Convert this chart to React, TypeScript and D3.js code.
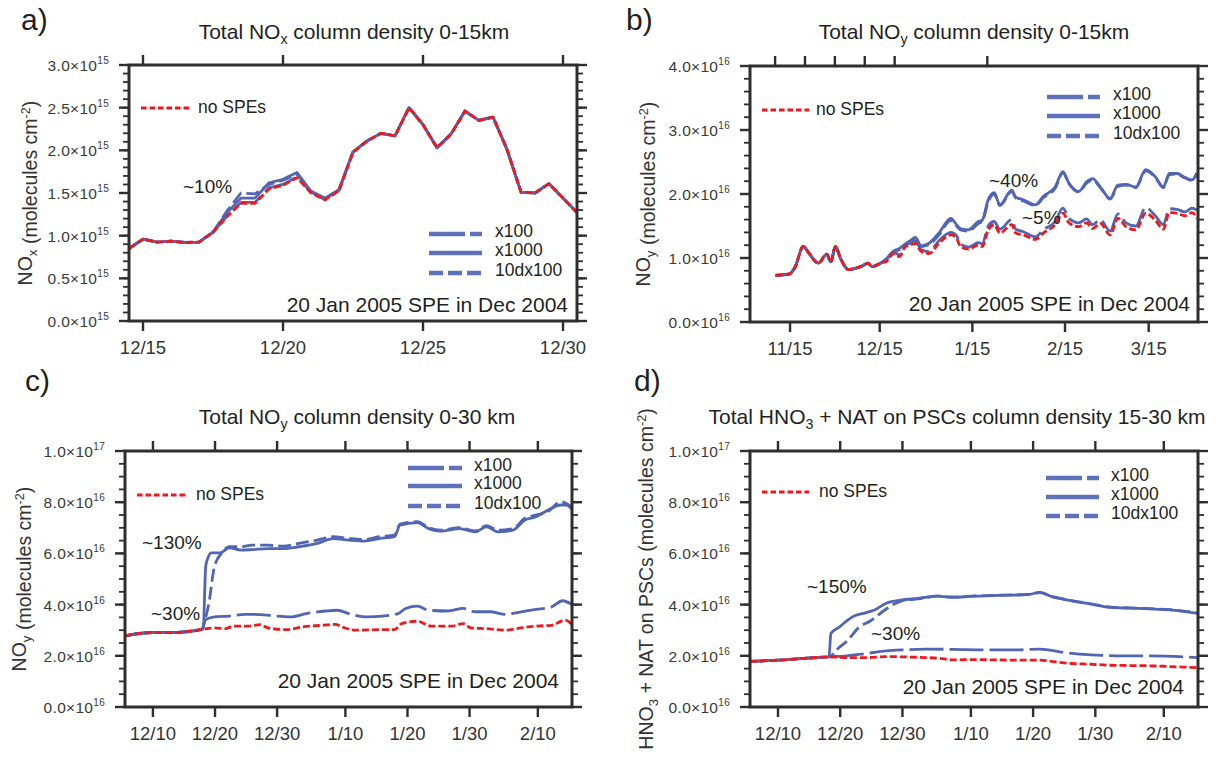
import * as d3 from "d3";
import type { ReactNode } from "react";

// ---------- data (values in units of the panel's base exponent) ----------
// x values are days counted from 30 Nov 2004 (so 12/15 = 15, 1/10 = 41, 11/15 = -15)

// panel a: NOx 0-15 km, x1e15, twice daily
const aDays = [14.5, 15, 15.5, 16, 16.5, 17, 17.5, 18, 18.5, 19, 19.5, 20, 20.5, 21, 21.5, 22, 22.5, 23, 23.5, 24, 24.5, 25, 25.5, 26, 26.5, 27, 27.5, 28, 28.5, 29, 29.5, 30, 30.5];
const aNoSpe = [0.85, 0.96, 0.925, 0.935, 0.92, 0.925, 1.04, 1.225, 1.38, 1.38, 1.55, 1.59, 1.68, 1.5, 1.42, 1.53, 1.98, 2.11, 2.2, 2.17, 2.5, 2.3, 2.03, 2.19, 2.46, 2.35, 2.39, 2.01, 1.51, 1.5, 1.61, 1.44, 1.27];
const aX1000 = [0.85, 0.96, 0.925, 0.935, 0.92, 0.925, 1.04, 1.27, 1.44, 1.44, 1.62, 1.66, 1.74, 1.52, 1.44, 1.54, 1.98, 2.11, 2.2, 2.17, 2.5, 2.3, 2.03, 2.19, 2.46, 2.35, 2.39, 2.01, 1.51, 1.5, 1.61, 1.44, 1.27];
const a10dx100 = [0.85, 0.96, 0.925, 0.935, 0.92, 0.925, 1.04, 1.29, 1.5, 1.49, 1.6, 1.65, 1.72, 1.52, 1.43, 1.54, 1.98, 2.11, 2.2, 2.17, 2.5, 2.3, 2.03, 2.19, 2.46, 2.35, 2.39, 2.01, 1.51, 1.5, 1.61, 1.44, 1.27];
const aX100 = [0.85, 0.96, 0.925, 0.935, 0.92, 0.925, 1.04, 1.23, 1.39, 1.39, 1.56, 1.6, 1.69, 1.51, 1.42, 1.53, 1.98, 2.11, 2.2, 2.17, 2.5, 2.3, 2.03, 2.19, 2.46, 2.35, 2.39, 2.01, 1.51, 1.5, 1.61, 1.44, 1.27];

// panel b: NOy 0-15 km, x1e16
const bDays = [-19.85, -15.2, -13.3, -10.6, -8.6, -5.6, -2.7, -1.4, 0.2, 1.9, 4.5, 9.1, 11.1, 12.4, 15.7, 17, 19.7, 21.6, 23.6, 25.2, 26.9, 28.9, 31.5, 34.8, 38.8, 40.7, 42, 44.7, 48, 49.3, 51.3, 53.3, 55.2, 59.2, 60.5, 63.1, 67.1, 69.7, 73.7, 76.3, 78.3, 81.6, 84.2, 86.2, 88.8, 92.1, 94.7, 97.4, 100.7, 104, 107.2, 109.9, 111.9, 114.5, 117.1, 119.5, 121.1];
const bNoSpe = [0.73, 0.75, 0.86, 1.18, 1.07, 0.92, 1.06, 0.94, 1.18, 0.99, 0.82, 0.875, 0.92, 0.865, 0.93, 0.94, 1.07, 1.02, 1.18, 1.2, 1.23, 1.1, 1.07, 1.23, 1.36, 1.31, 1.18, 1.14, 1.2, 1.18, 1.44, 1.52, 1.39, 1.52, 1.39, 1.36, 1.29, 1.39, 1.52, 1.7, 1.55, 1.49, 1.55, 1.46, 1.54, 1.36, 1.62, 1.49, 1.44, 1.7, 1.59, 1.45, 1.71, 1.7, 1.66, 1.71, 1.62];
const bX1000 = [0.73, 0.75, 0.86, 1.18, 1.07, 0.92, 1.06, 0.94, 1.18, 0.99, 0.82, 0.875, 0.92, 0.865, 0.93, 0.98, 1.11, 1.15, 1.22, 1.27, 1.32, 1.19, 1.23, 1.39, 1.62, 1.52, 1.46, 1.44, 1.57, 1.59, 1.91, 2.02, 1.83, 2.06, 1.95, 1.91, 1.83, 1.96, 2.11, 2.35, 2.17, 2.04, 2.19, 2.24, 2.11, 1.93, 2.14, 2.15, 2.11, 2.38, 2.27, 2.11, 2.32, 2.32, 2.26, 2.22, 2.33];
const b10dx100 = [0.73, 0.75, 0.86, 1.18, 1.07, 0.92, 1.06, 0.94, 1.18, 0.99, 0.82, 0.875, 0.92, 0.865, 0.93, 0.97, 1.1, 1.13, 1.21, 1.25, 1.3, 1.18, 1.21, 1.36, 1.59, 1.5, 1.44, 1.42, 1.54, 1.57, 1.88, 2.0, 1.82, 2.04, 1.94, 1.89, 1.82, 1.94, 2.09, 2.33, 2.16, 2.03, 2.17, 2.22, 2.1, 1.92, 2.12, 2.14, 2.1, 2.36, 2.26, 2.1, 2.3, 2.31, 2.25, 2.21, 2.31];
const bX100 = [0.73, 0.75, 0.86, 1.18, 1.07, 0.92, 1.06, 0.94, 1.18, 0.99, 0.82, 0.875, 0.92, 0.865, 0.93, 0.96, 1.09, 1.05, 1.2, 1.23, 1.27, 1.13, 1.1, 1.27, 1.4, 1.35, 1.22, 1.17, 1.24, 1.22, 1.5, 1.57, 1.45, 1.6, 1.45, 1.41, 1.33, 1.44, 1.57, 1.78, 1.62, 1.55, 1.61, 1.52, 1.6, 1.42, 1.69, 1.55, 1.5, 1.79, 1.66, 1.52, 1.77, 1.76, 1.72, 1.78, 1.75];

// panel c: NOy 0-30 km, x1e16, [day, value]
const cNoSpe: [number, number][] = [[5.5, 2.78], [10, 2.91], [13.1, 2.91], [14.9, 2.93], [17.7, 3.02], [19.9, 3.09], [21.7, 3.06], [23, 3.16], [25.4, 3.16], [27.3, 3.22], [28.5, 3.09], [31.6, 3.02], [34.1, 3.13], [37.2, 3.19], [39.3, 3.23], [40.9, 3.09], [42.7, 3.0], [46.4, 3.02], [48.9, 3.02], [50.1, 3.26], [52.6, 3.35], [54.8, 3.16], [58.1, 3.16], [60, 3.26], [61.2, 3.09], [63.7, 3.06], [66.8, 3.0], [69.3, 3.09], [71.7, 3.16], [74.2, 3.19], [76.4, 3.39], [77.5, 3.22]];
const cX1000: [number, number][] = [[5.5, 2.78], [10, 2.91], [13.1, 2.91], [14.9, 2.93], [17.7, 3.02], [18.1, 3.04], [18.5, 5.5], [18.9, 5.85], [19.4, 6.02], [20.8, 6.02], [22.3, 6.22], [24.2, 6.13], [26, 6.15], [28.5, 6.19], [31, 6.19], [33.5, 6.26], [36.5, 6.39], [39, 6.58], [41.5, 6.52], [44, 6.48], [46.4, 6.58], [48.9, 6.65], [49.8, 7.1], [52.6, 7.2], [54.4, 6.97], [56.3, 6.87], [59.4, 6.97], [61.9, 6.84], [63.7, 7.04], [65.6, 6.84], [68, 6.91], [69.9, 7.3], [71.7, 7.43], [73.6, 7.69], [75.7, 7.89], [76.6, 7.89], [77.5, 7.72]];
const c10dx100: [number, number][] = [[5.5, 2.78], [10, 2.91], [13.1, 2.91], [14.9, 2.93], [17.7, 3.02], [17.9, 3.05], [18.6, 3.6], [19, 4.04], [19.9, 5.48], [21.1, 6.02], [22.3, 6.26], [24.2, 6.26], [26, 6.32], [28.5, 6.32], [31, 6.28], [33.5, 6.39], [36.5, 6.52], [39, 6.65], [41.5, 6.58], [44, 6.54], [46.4, 6.65], [48.9, 6.71], [49.8, 7.14], [52.6, 7.24], [54.4, 7.01], [56.3, 6.91], [59.4, 7.01], [61.9, 6.88], [63.7, 7.08], [65.6, 6.91], [68, 6.97], [69.9, 7.37], [71.7, 7.5], [73.6, 7.63], [75.7, 8.02], [76.6, 7.95], [77.5, 7.82]];
const cX100: [number, number][] = [[5.5, 2.78], [10, 2.91], [13.1, 2.91], [14.9, 2.93], [17.7, 3.02], [18, 3.04], [18.4, 3.4], [19.9, 3.52], [22.3, 3.55], [24.8, 3.62], [27.3, 3.61], [29.8, 3.55], [32.2, 3.52], [34.7, 3.65], [37.8, 3.75], [39.6, 3.78], [42.1, 3.61], [44.6, 3.52], [47, 3.55], [49.5, 3.65], [50.7, 3.85], [52.6, 3.94], [54.4, 3.78], [57.5, 3.75], [60, 3.85], [61.9, 3.72], [64.3, 3.72], [66.8, 3.62], [69.3, 3.72], [71.7, 3.81], [74.2, 3.91], [76, 4.15], [77.5, 4.0]];

// panel d: HNO3 + NAT 15-30 km, x1e16, [day, value]
const dNoSpe: [number, number][] = [[5.5, 1.78], [10, 1.83], [14.7, 1.91], [18.2, 1.96], [21.1, 1.93], [24.2, 1.93], [27.4, 1.97], [29.9, 1.96], [33.7, 1.93], [35.6, 1.91], [38.2, 1.84], [41.9, 1.85], [45.1, 1.84], [48.3, 1.83], [52.1, 1.83], [54.6, 1.76], [57.2, 1.7], [60.3, 1.67], [63.5, 1.63], [66.6, 1.62], [69.8, 1.61], [73, 1.58], [77.4, 1.54]];
const dX1000: [number, number][] = [[5.5, 1.78], [10, 1.83], [14.7, 1.91], [18.2, 1.96], [18.5, 2.87], [19.8, 3.11], [21.1, 3.37], [22.3, 3.56], [24.2, 3.69], [25.5, 3.79], [27.4, 4.05], [29.9, 4.18], [32.5, 4.24], [35.6, 4.33], [38.2, 4.28], [41.3, 4.33], [44.5, 4.35], [47.7, 4.37], [50.2, 4.39], [52.1, 4.48], [54, 4.31], [57.2, 4.15], [60.3, 4.02], [63.5, 3.89], [66.6, 3.86], [69.8, 3.83], [73, 3.79], [77.4, 3.66]];
const d10dx100: [number, number][] = [[5.5, 1.78], [10, 1.83], [14.7, 1.91], [18.2, 1.96], [19.8, 2.32], [21.1, 2.58], [23, 3.11], [24.9, 3.37], [27.4, 3.83], [29.9, 4.15], [32.5, 4.22], [35.6, 4.33], [38.2, 4.3], [41.3, 4.33], [44.5, 4.36], [47.7, 4.38], [50.2, 4.4], [52.1, 4.47], [54, 4.32], [57.2, 4.16], [60.3, 4.03], [63.5, 3.9], [66.6, 3.87], [69.8, 3.84], [73, 3.8], [77.4, 3.68]];
const dX100: [number, number][] = [[5.5, 1.78], [10, 1.83], [14.7, 1.91], [18.2, 1.96], [21.1, 2.0], [24.2, 2.09], [27.4, 2.19], [29.9, 2.23], [33.7, 2.26], [38.2, 2.25], [43.2, 2.23], [48.3, 2.23], [52.1, 2.26], [55.9, 2.13], [60.3, 2.04], [65.4, 2.0], [69.8, 2.0], [77.4, 1.93]];

// tick labels
const aTickDays = [15, 20, 25, 30];
const aTickLabels = ["12/15", "12/20", "12/25", "12/30"];
const bTickDays = [-15, 15, 46, 77, 105];
const bTickLabels = ["11/15", "12/15", "1/15", "2/15", "3/15"];
const bTopTickDays = [-20, -10, 0, 10, 20, 51];
const cdTickDays = [10, 20, 30, 41, 51, 61, 72];
const cdTickLabels = ["12/10", "12/20", "12/30", "1/10", "1/20", "1/30", "2/10"];
const legendNames = ["x100", "x1000", "10dx100"];
const spe = "20 Jan 2005 SPE in Dec 2004";

// ---------- styles ----------
const BLUE = "#5165b5";
const RED = "#f2171c";
const INK = "#231f20";
const AXIS = "#2e2e2e";
const FONT = "'Liberation Sans', Arial, Helvetica, sans-serif";

type Pt = [number, number];
type Kind = "x100" | "x1000" | "d10" | "none";
type Line = { kind: Kind; pts: Pt[] };

const dashFor: Record<Kind, string | undefined> = {
  x100: "34 6",
  x1000: undefined,
  d10: "13 5",
  none: "7 3",
};
const legendDash = ["36 5", undefined, "14 5"];

const zipPts = (xs: number[], ys: number[]): Pt[] => xs.map((x, i) => [x, ys[i]] as Pt);

type Box = { x0: number; x1: number; y0: number; y1: number };

type PanelProps = {
  id: string;
  box: Box;
  xDom: [number, number];
  yDom: [number, number];
  exp: number;
  majorN: number;
  minorN: number;
  smooth: boolean;
  ticks: number[];
  tickLabels: string[];
  topTicks: number[];
  lines: Line[];
  tag: { text: string; x: number; y: number };
  title: { node: ReactNode; x: number; y: number };
  yTitle: { node: ReactNode; x: number };
  red: { x0: number; x1: number; y: number; tx: number };
  blue: { x0: number; x1: number; ys: number[]; tx: number };
  notes: { text: string; x: number; y: number }[];
  speAt: { x: number; y: number };
};

function Panel(p: PanelProps) {
  const { box } = p;
  const x = d3.scaleLinear().domain(p.xDom).range([box.x0, box.x1]);
  const y = d3.scaleLinear().domain(p.yDom).range([box.y1, box.y0]);
  const line = d3
    .line<Pt>()
    .x((d) => x(d[0]))
    .y((d) => y(d[1]))
    .curve(p.smooth ? d3.curveMonotoneX : d3.curveLinear);
  const majors = y.ticks(p.majorN);
  const minors = y.ticks(p.minorN);
  const order: Kind[] = ["x100", "d10", "x1000", "none"];

  const yLabel = (v: number) => {
    const big = v >= 10;
    return { m: (big ? v / 10 : v).toFixed(1), e: String(big ? p.exp + 1 : p.exp) };
  };

  return (
    <g>
      <defs>
        <clipPath id={`clip-${p.id}`}>
          <rect x={box.x0} y={box.y0} width={box.x1 - box.x0} height={box.y1 - box.y0} />
        </clipPath>
      </defs>

      {/* panel tag and title */}
      <text x={p.tag.x} y={p.tag.y} fontSize={30} fill={INK}>
        {p.tag.text}
      </text>
      <text x={p.title.x} y={p.title.y} fontSize={21} fill={INK} textAnchor="middle">
        {p.title.node}
      </text>

      {/* y axis title */}
      <text
        transform={`translate(${p.yTitle.x},${(box.y0 + box.y1) / 2}) rotate(-90)`}
        y={7}
        fontSize={19.5}
        fill="#333"
        textAnchor="middle"
      >
        {p.yTitle.node}
      </text>

      {/* data */}
      <g clipPath={`url(#clip-${p.id})`}>
        {order.map((k) =>
          p.lines
            .filter((l) => l.kind === k)
            .map((l, i) => (
              <path
                key={`${k}${i}`}
                d={line(l.pts) ?? ""}
                fill="none"
                stroke={k === "none" ? RED : BLUE}
                strokeWidth={2.8}
                strokeDasharray={dashFor[k]}
                strokeLinejoin="round"
              />
            ))
        )}
      </g>

      {/* frame */}
      <rect
        x={box.x0}
        y={box.y0}
        width={box.x1 - box.x0}
        height={box.y1 - box.y0}
        fill="none"
        stroke={AXIS}
        strokeWidth={3}
      />

      {/* y ticks both sides */}
      {minors.map((v) => (
        <g key={`mn${v}`} stroke={AXIS} strokeWidth={1.8}>
          <line x1={box.x0 - 6} x2={box.x0} y1={y(v)} y2={y(v)} />
          <line x1={box.x1} x2={box.x1 + 6} y1={y(v)} y2={y(v)} />
        </g>
      ))}
      {majors.map((v) => (
        <g key={`mj${v}`} stroke={AXIS} strokeWidth={2.4}>
          <line x1={box.x0 - 10} x2={box.x0} y1={y(v)} y2={y(v)} />
          <line x1={box.x1} x2={box.x1 + 10} y1={y(v)} y2={y(v)} />
        </g>
      ))}
      {majors.map((v) => {
        const l = yLabel(v);
        return (
          <text
            key={`yl${v}`}
            x={box.x0 - 20}
            y={y(v) + 6}
            fontSize={15.5}
            fill="#3a3a3a"
            textAnchor="end"
            letterSpacing={0.3}
          >
            {l.m}×10
            <tspan dy={-7} fontSize={10}>
              {l.e}
            </tspan>
          </text>
        );
      })}

      {/* x ticks */}
      {p.ticks.map((t, i) => (
        <g key={`xt${t}`}>
          <line x1={x(t)} x2={x(t)} y1={box.y1} y2={box.y1 + 10} stroke={AXIS} strokeWidth={2.4} />
          <text x={x(t)} y={box.y1 + 33} fontSize={18.5} fill="#333" textAnchor="middle">
            {p.tickLabels[i]}
          </text>
        </g>
      ))}
      {p.topTicks.map((t) => (
        <line key={`tt${t}`} x1={x(t)} x2={x(t)} y1={box.y0 - 10} y2={box.y0} stroke={AXIS} strokeWidth={2.4} />
      ))}

      {/* legends */}
      <line x1={p.red.x0} x2={p.red.x1} y1={p.red.y} y2={p.red.y} stroke={RED} strokeWidth={3} strokeDasharray="5.5 3" />
      <text x={p.red.tx} y={p.red.y + 4.5} fontSize={17.5} fill={INK}>
        no SPEs
      </text>
      {legendNames.map((n, i) => (
        <g key={n}>
          <line
            x1={p.blue.x0}
            x2={p.blue.x1}
            y1={p.blue.ys[i]}
            y2={p.blue.ys[i]}
            stroke={BLUE}
            strokeWidth={4.5}
            strokeDasharray={legendDash[i]}
            opacity={0.92}
          />
          <text x={p.blue.tx} y={p.blue.ys[i] + 2.5} fontSize={17.5} fill={INK}>
            {n}
          </text>
        </g>
      ))}

      {/* annotations */}
      {p.notes.map((n) => (
        <text key={n.text + n.x} x={n.x} y={n.y} fontSize={19} fill={INK}>
          {n.text}
        </text>
      ))}
      <text x={p.speAt.x} y={p.speAt.y} fontSize={21} fill={INK} textAnchor="end">
        {spe}
      </text>
    </g>
  );
}

const sub = (s: string) => (
  <tspan dy={5} fontSize="0.68em">
    {s}
  </tspan>
);
const back = (s: string) => <tspan dy={-5}>{s}</tspan>;
const unitsTail = (
  <>
    <tspan> (molecules cm</tspan>
    <tspan dy={-7} fontSize="0.65em">
      -2
    </tspan>
    <tspan dy={7}>)</tspan>
  </>
);

export default function App() {
  return (
    <svg
      width={1228}
      height={757}
      fontFamily={FONT}
      style={{ position: "absolute", left: 0, top: 0, background: "#fff" }}
    >
      <rect width={1228} height={757} fill="#fff" />

      <Panel
        id="a"
        box={{ x0: 129, x1: 577, y0: 65, y1: 321 }}
        xDom={[14.5, 30.5]}
        yDom={[0, 3]}
        exp={15}
        majorN={6}
        minorN={30}
        smooth={false}
        ticks={aTickDays}
        tickLabels={aTickLabels}
        topTicks={aTickDays}
        lines={[
          { kind: "x100", pts: zipPts(aDays, aX100) },
          { kind: "d10", pts: zipPts(aDays, a10dx100) },
          { kind: "x1000", pts: zipPts(aDays, aX1000) },
          { kind: "none", pts: zipPts(aDays, aNoSpe) },
        ]}
        tag={{ text: "a)", x: 21, y: 30 }}
        title={{ node: <>Total NO{sub("x")}{back(" column density 0-15km")}</>, x: 354, y: 38.5 }}
        yTitle={{ node: <>NO{sub("x")}<tspan dy={-5}></tspan>{unitsTail}</>, x: 25 }}
        red={{ x0: 141, x1: 189, y: 108, tx: 198 }}
        blue={{ x0: 429, x1: 482, ys: [234, 253, 273], tx: 495 }}
        notes={[{ text: "~10%", x: 183, y: 193 }]}
        speAt={{ x: 568, y: 311.5 }}
      />

      <Panel
        id="b"
        box={{ x0: 750, x1: 1198, y0: 66, y1: 322 }}
        xDom={[-28.4, 121.5]}
        yDom={[0, 4]}
        exp={16}
        majorN={4}
        minorN={20}
        smooth={true}
        ticks={bTickDays}
        tickLabels={bTickLabels}
        topTicks={bTopTickDays}
        lines={[
          { kind: "x100", pts: zipPts(bDays, bX100) },
          { kind: "d10", pts: zipPts(bDays, b10dx100) },
          { kind: "x1000", pts: zipPts(bDays, bX1000) },
          { kind: "none", pts: zipPts(bDays, bNoSpe) },
        ]}
        tag={{ text: "b)", x: 626, y: 30 }}
        title={{ node: <>Total NO{sub("y")}{back(" column density 0-15km")}</>, x: 974, y: 38.5 }}
        yTitle={{ node: <>NO{sub("y")}<tspan dy={-5}></tspan>{unitsTail}</>, x: 643 }}
        red={{ x0: 762, x1: 809, y: 110, tx: 816 }}
        blue={{ x0: 1047, x1: 1100, ys: [97, 116, 136], tx: 1113 }}
        notes={[
          { text: "~40%", x: 989, y: 187 },
          { text: "~5%", x: 1022, y: 224 },
        ]}
        speAt={{ x: 1190, y: 310.5 }}
      />

      <Panel
        id="c"
        box={{ x0: 125, x1: 572, y0: 451, y1: 707 }}
        xDom={[5.5, 77.5]}
        yDom={[0, 10]}
        exp={16}
        majorN={5}
        minorN={20}
        smooth={true}
        ticks={cdTickDays}
        tickLabels={cdTickLabels}
        topTicks={cdTickDays}
        lines={[
          { kind: "x100", pts: cX100 },
          { kind: "d10", pts: c10dx100 },
          { kind: "x1000", pts: cX1000 },
          { kind: "none", pts: cNoSpe },
        ]}
        tag={{ text: "c)", x: 25, y: 391 }}
        title={{ node: <>Total NO{sub("y")}{back(" column density 0-30 km")}</>, x: 357, y: 424 }}
        yTitle={{ node: <>NO{sub("y")}<tspan dy={-5}></tspan>{unitsTail}</>, x: 19 }}
        red={{ x0: 137, x1: 186, y: 495, tx: 196 }}
        blue={{ x0: 408, x1: 462, ys: [468, 486, 506], tx: 474 }}
        notes={[
          { text: "~130%", x: 142, y: 549 },
          { text: "~30%", x: 151, y: 620 },
        ]}
        speAt={{ x: 559, y: 687.5 }}
      />

      <Panel
        id="d"
        box={{ x0: 750, x1: 1198, y0: 451, y1: 707 }}
        xDom={[5.5, 77.5]}
        yDom={[0, 10]}
        exp={16}
        majorN={5}
        minorN={20}
        smooth={true}
        ticks={cdTickDays}
        tickLabels={cdTickLabels}
        topTicks={cdTickDays}
        lines={[
          { kind: "x100", pts: dX100 },
          { kind: "d10", pts: d10dx100 },
          { kind: "x1000", pts: dX1000 },
          { kind: "none", pts: dNoSpe },
        ]}
        tag={{ text: "d)", x: 634, y: 391 }}
        title={{
          node: <>Total HNO{sub("3")}{back(" + NAT on PSCs column density 15-30 km")}</>,
          x: 957,
          y: 424,
        }}
        yTitle={{ node: <>HNO{sub("3")}{back(" + NAT on PSCs")}{unitsTail}</>, x: 646 }}
        red={{ x0: 762, x1: 809, y: 492, tx: 819 }}
        blue={{ x0: 1046, x1: 1099, ys: [478, 497, 516], tx: 1111 }}
        notes={[
          { text: "~150%", x: 807, y: 593 },
          { text: "~30%", x: 871, y: 640 },
        ]}
        speAt={{ x: 1184, y: 694 }}
      />
    </svg>
  );
}
